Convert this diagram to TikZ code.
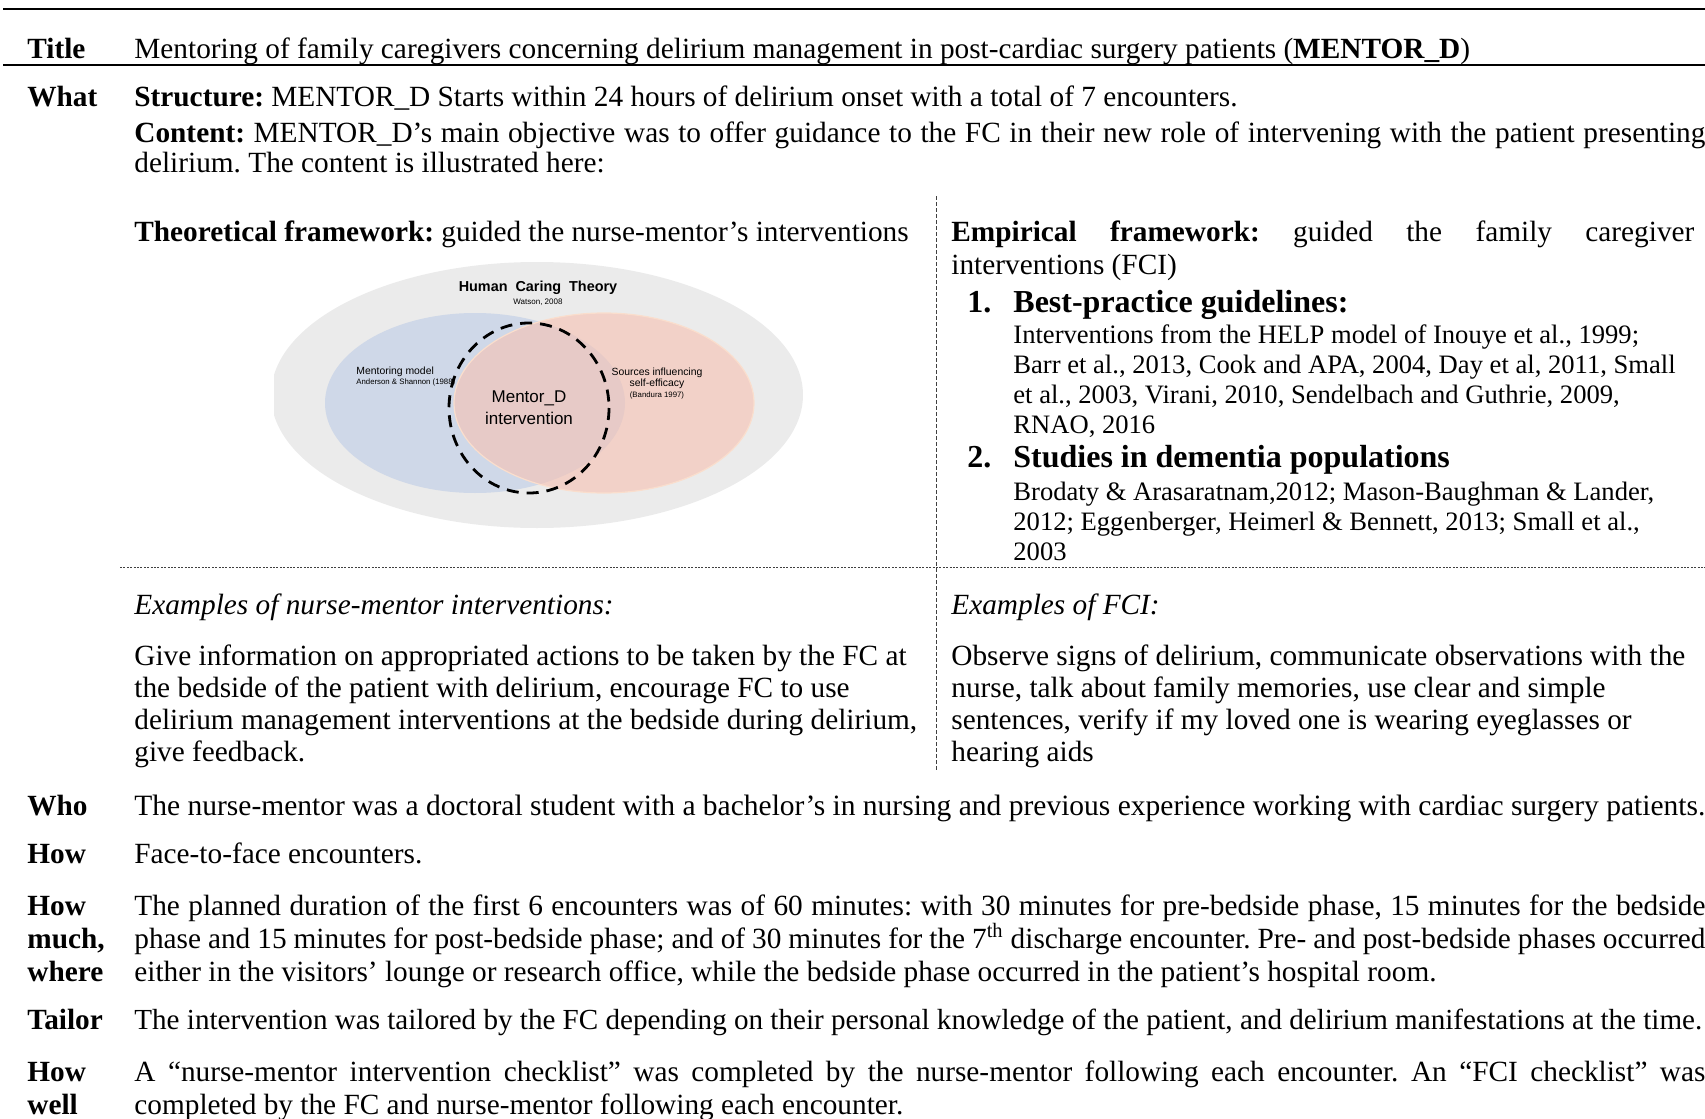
\documentclass[tikz,border=0pt]{standalone}
\usepackage{fontspec}
\setmainfont{Liberation Serif}
\newfontfamily\vennfont{Liberation Sans}
\usetikzlibrary{positioning}
\frenchspacing
\definecolor{outergray}{RGB}{235,235,235}
\definecolor{mentorblue}{RGB}{207,216,232}
\definecolor{sourcepink}{RGB}{247,193,177}
\definecolor{peachline}{RGB}{250,222,205}
\newcommand{\bodysize}{\fontsize{14.65}{16.6}\selectfont}
\newcommand{\refsize}{\fontsize{13.3}{15}\selectfont}
\newcommand{\itemsize}{\fontsize{16}{18}\selectfont}
\tikzset{
    rowlabel/.style={anchor=base west, inner sep=0pt, font=\bodysize\bfseries, text width=60pt, align=flush left}, % left column of the table
    bodytext/.style={anchor=base west, inner sep=0pt, font=\bodysize, align=left},
    fullpar/.style={bodytext, text width=785.5pt, align=justify}, % paragraphs over the whole width
    raggedpar/.style={bodytext, text width=420pt, align=flush left},
    reflines/.style={anchor=base west, inner sep=0pt, font=\refsize, text width=345pt, align=flush left},
    listhead/.style={anchor=base west, inner sep=0pt, font=\itemsize\bfseries},
    venntext/.style={inner sep=0pt, align=center},
    colrule/.style={line width=0.4pt, black!75},
}

\begin{document}
\begin{tikzpicture}[x=0.5pt,y=-0.5pt]
\useasboundingbox (0,0) rectangle (1705,1119);

% rules of the table
\draw[line width=1.4pt] (3,9) -- (1705,9);
\draw[line width=1.1pt] (3,65) -- (1705,65);

% Title
\node[rowlabel] (title) at (27,58) {Title};
\node[bodytext] (titletext) at (134,58) {Mentoring of family caregivers concerning delirium management in post-cardiac surgery patients (\textbf{MENTOR\_D})};

% What
\node[rowlabel] (what) at (27,106) {What};
\node[bodytext] (structure) at (134,106) {\textbf{Structure:} MENTOR\_D Starts within 24 hours of delirium onset with a total of 7 encounters.};
\node[fullpar, font={\fontsize{14.65}{15}\selectfont}] (content) at (134,142) {\textbf{Content:} MENTOR\_D’s main objective was to offer guidance to the FC in their new role of intervening with the patient presenting\linebreak delirium. The content is illustrated here:};

% column dividers
\draw[colrule, dash pattern=on 2pt off 1pt] (936,196) -- (936,770);
\draw[colrule, dash pattern=on 1pt off 0.7pt] (120,567) -- (1705,567);

% theoretical framework
\node[bodytext] (theory) at (134,241) {\textbf{Theoretical framework:} guided the nurse-mentor’s interventions};

\begin{scope}
    \clip (274,250) rectangle (820,545);
    \fill[outergray] (537,395) ellipse [x radius=266, y radius=133];
\end{scope}
\fill[mentorblue] (475,403) ellipse [x radius=150, y radius=90];
\fill[sourcepink, fill opacity=0.6] (604,403) ellipse [x radius=150, y radius=90];
\draw[peachline, line width=0.6pt] (604,403) ellipse [x radius=150, y radius=90];
\draw[line width=1.4pt, dash pattern=on 6pt off 4pt] (529,408) ellipse [x radius=80, y radius=85];

\node[venntext, font=\vennfont\bfseries\fontsize{7.2}{8}\selectfont] (caring) at (538,288) {Human\ \ Caring\ \ Theory};
\node[venntext, font=\vennfont\fontsize{4}{5}\selectfont] (watson) at (538,302) {Watson, 2008};
\node[venntext, anchor=west, font=\vennfont\fontsize{5.2}{6}\selectfont] (mentoring) at (356,372) {Mentoring model};
\node[venntext, anchor=west, font=\vennfont\fontsize{3.9}{5}\selectfont] (anderson) at (356,382) {Anderson \& Shannon (1988)};
\node[venntext, font=\vennfont\fontsize{5.2}{6}\selectfont] (sources) at (657,373) {Sources influencing};
\node[venntext, font=\vennfont\fontsize{5.2}{6}\selectfont] (efficacy) at (657,384) {self-efficacy};
\node[venntext, font=\vennfont\fontsize{3.9}{5}\selectfont] (bandura) at (657,395) {(Bandura 1997)};
\node[venntext, font=\vennfont\fontsize{8.5}{10}\selectfont] (mentord) at (529,398) {Mentor\_D};
\node[venntext, font=\vennfont\fontsize{8.5}{10}\selectfont] (intervention) at (529,418) {intervention};

% empirical framework
\node[bodytext, text width=371.5pt, align=justify] (empirical) at (951,241) {\textbf{Empirical framework:} guided the family caregiver\linebreak interventions (FCI)};
\node[listhead] (numone) at (967,312) {1.};
\node[listhead] (guidelines) at (1013,312) {Best-practice guidelines:};
\node[reflines] (guiderefs) at (1013,343) {Interventions from the HELP model of Inouye et al., 1999;\\Barr et al., 2013, Cook and APA, 2004, Day et al, 2011, Small\\et al., 2003, Virani, 2010, Sendelbach and Guthrie, 2009,\\RNAO, 2016};
\node[listhead] (numtwo) at (967,467) {2.};
\node[listhead] (dementia) at (1013,467) {Studies in dementia populations};
\node[reflines] (dementiarefs) at (1013,500) {Brodaty \& Arasaratnam,2012; Mason-Baughman \& Lander,\\2012; Eggenberger, Heimerl \& Bennett, 2013; Small et al.,\\2003};

% examples
\node[bodytext, font=\bodysize\itshape] (mentorex) at (134,614) {Examples of nurse-mentor interventions:};
\node[bodytext, font=\bodysize\itshape] (fciex) at (951,614) {Examples of FCI:};
\node[raggedpar, font={\fontsize{14.65}{16}\selectfont}] (mentorlist) at (134,665) {Give information on appropriated actions to be taken by the FC at\\the bedside of the patient with delirium, encourage FC to use\\delirium management interventions at the bedside during delirium,\\give feedback.};
\node[raggedpar, font={\fontsize{14.65}{16}\selectfont}] (fcilist) at (951,665) {Observe signs of delirium, communicate observations with the\\nurse, talk about family memories, use clear and simple\\sentences, verify if my loved one is wearing eyeglasses or\\hearing aids};

% Who
\node[rowlabel] (who) at (27,815) {Who};
\node[bodytext, font={\fontsize{14.75}{16.6}\selectfont}] (whotext) at (134,815) {The nurse-mentor was a doctoral student with a bachelor’s in nursing and previous experience working with cardiac surgery patients.};

% How
\node[rowlabel] (how) at (27,863) {How};
\node[bodytext] (howtext) at (134,863) {Face-to-face encounters.};

% How much, where
\node[rowlabel] (howmuch) at (27,915) {How\\much,\\where};
\node[fullpar] (howmuchtext) at (134,915) {The planned duration of the first 6 encounters was of 60 minutes: with 30 minutes for pre-bedside phase, 15 minutes for the bedside\linebreak phase and 15 minutes for post-bedside phase; and of 30 minutes for the 7\textsuperscript{th} discharge encounter. Pre- and post-bedside phases occurred\linebreak either in the visitors’ lounge or research office, while the bedside phase occurred in the patient’s hospital room.};

% Tailor
\node[rowlabel] (tailor) at (27,1029) {Tailor};
\node[bodytext, font={\fontsize{14.55}{16.6}\selectfont}] (tailortext) at (134,1029) {The intervention was tailored by the FC depending on their personal knowledge of the patient, and delirium manifestations at the time.};

% How well
\node[rowlabel] (howwell) at (27,1081) {How\\well};
\node[fullpar] (howwelltext) at (134,1081) {A “nurse-mentor intervention checklist” was completed by the nurse-mentor following each encounter. An “FCI checklist” was\linebreak completed by the FC and nurse-mentor following each encounter.};
\end{tikzpicture}
\end{document}
